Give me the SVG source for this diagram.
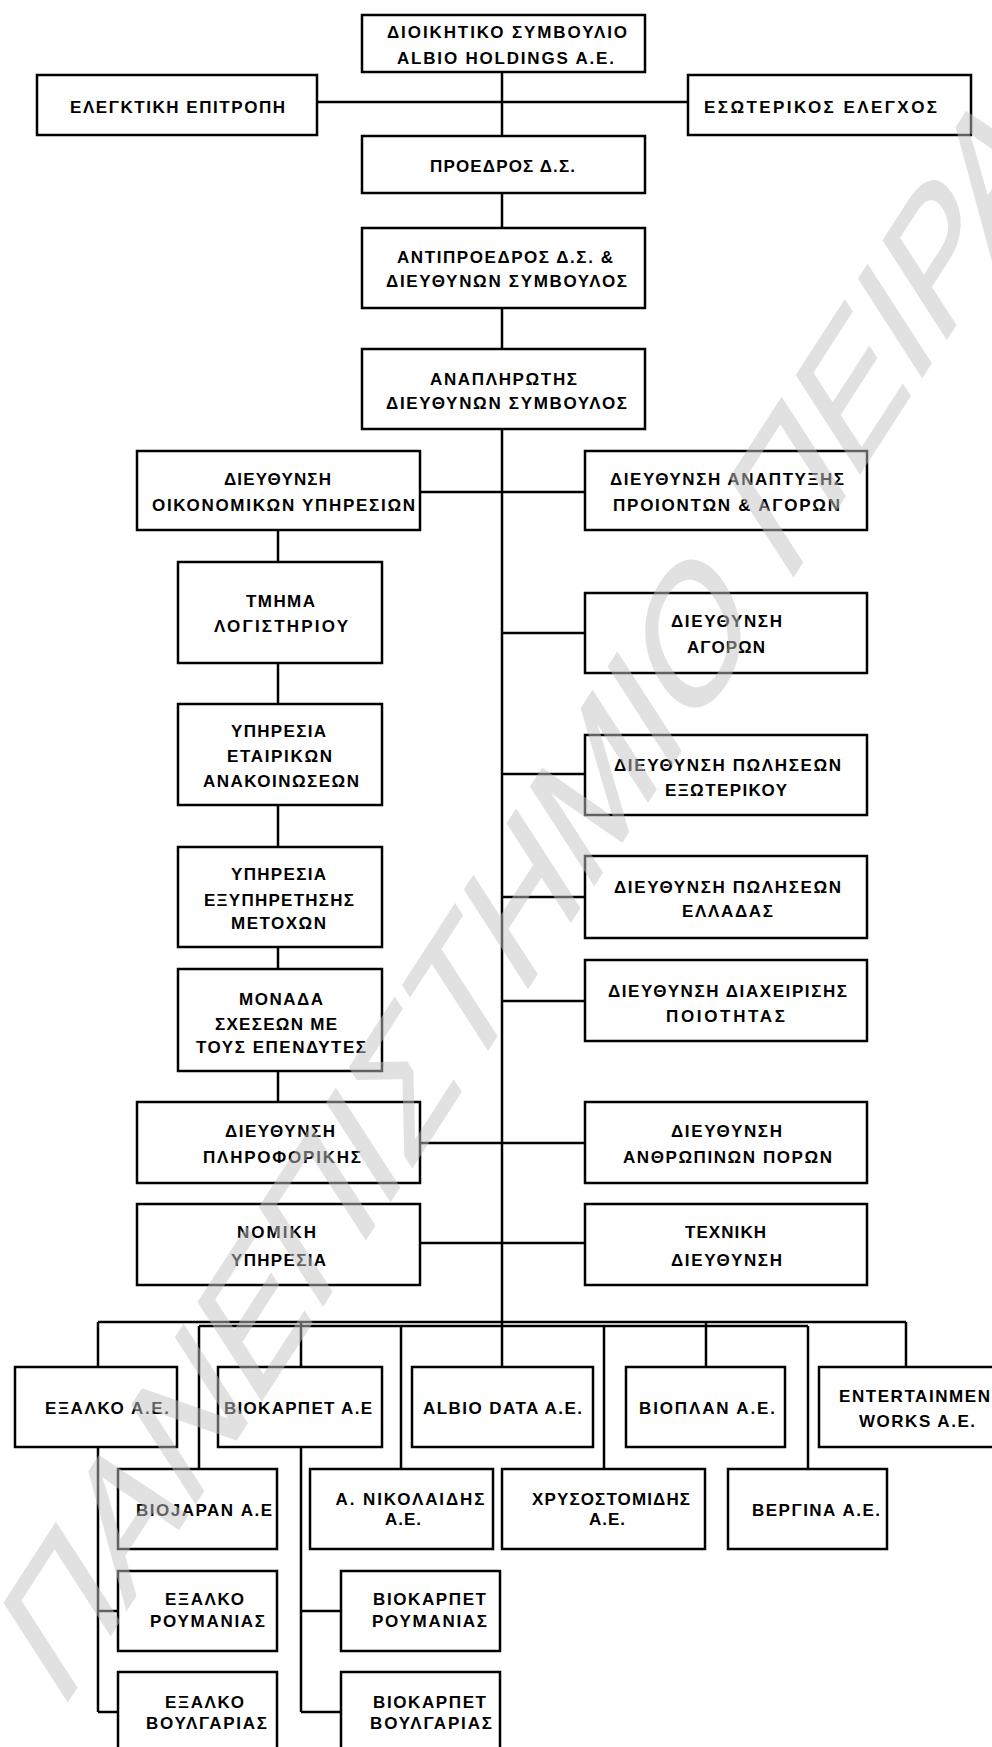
<svg xmlns="http://www.w3.org/2000/svg" width="992" height="1747" viewBox="0 0 992 1747">
<style>
.box{fill:#fff;stroke:#000;stroke-width:2.5}
.t{font-family:"Liberation Sans",Arial,sans-serif;font-weight:bold;font-size:17px;text-anchor:middle;fill:#000}
.c{stroke:#000;stroke-width:2.5;fill:none}
.wm{font-family:"Liberation Sans",Arial,sans-serif;font-size:130px;fill:#c4c4c4;stroke:#c4c4c4;stroke-width:1.5}
</style>
<rect width="992" height="1747" fill="#fff"/>
<g id="connectors">
<path class="c" d="M502,73 V135 M502,194 V227 M502,309 V348 M502,430 V1366 M318,102 H687 M421,492 H584 M278,531 V561 M278,664 V703 M278,806 V846 M278,948 V968 M278,1072 V1101 M502,774 H584 M502,897 H584 M502,1001 H584 M421,1143 H584 M421,1243 H584 M98,1322 H906 M199,1326 H808 M98,1322 V1366 M906,1322 V1366 M301,1322 V1366 M706,1322 V1366 M199,1326 V1468 M401,1326 V1468 M604,1326 V1468 M808,1326 V1468 M98,1448 V1712 M98,1611 H117 M98,1712 H117 M301,1448 V1712 M301,1611 H340 M301,1712 H340"/>
<path class="c" stroke-width="4.5" d="M502,633 H584"/>
</g>
<g id="board"><rect class="box" x="362" y="15" width="283" height="57"/><text class="t" x="507" y="38" textLength="240">ΔΙΟΙΚΗΤΙΚΟ ΣΥΜΒΟΥΛΙΟ</text><text class="t" x="505.5" y="64" textLength="217">ALBIO HOLDINGS A.E.</text></g>
<g id="audit"><rect class="box" x="37" y="75" width="280" height="60"/><text class="t" x="177.5" y="113" textLength="215">ΕΛΕΓΚΤΙΚΗ ΕΠΙΤΡΟΠΗ</text></g>
<g id="internal"><rect class="box" x="688" y="75" width="283" height="60"/><text class="t" x="820.5" y="113" textLength="233">ΕΣΩΤΕΡΙΚΟΣ ΕΛΕΓΧΟΣ</text></g>
<g id="chair"><rect class="box" x="362" y="136" width="283" height="57"/><text class="t" x="502.5" y="172" textLength="145">ΠΡΟΕΔΡΟΣ Δ.Σ.</text></g>
<g id="vice"><rect class="box" x="362" y="228" width="283" height="80"/><text class="t" x="505" y="263" textLength="216">ΑΝΤΙΠΡΟΕΔΡΟΣ Δ.Σ. &amp;</text><text class="t" x="506.5" y="287" textLength="241">ΔΙΕΥΘΥΝΩΝ ΣΥΜΒΟΥΛΟΣ</text></g>
<g id="deputy"><rect class="box" x="362" y="349" width="283" height="80"/><text class="t" x="503.5" y="385" textLength="147">ΑΝΑΠΛΗΡΩΤΗΣ</text><text class="t" x="506.5" y="409" textLength="241">ΔΙΕΥΘΥΝΩΝ ΣΥΜΒΟΥΛΟΣ</text></g>
<g id="finance"><rect class="box" x="137" y="451" width="283" height="79"/><text class="t" x="277.5" y="485" textLength="107">ΔΙΕΥΘΥΝΣΗ</text><text class="t" x="283.5" y="511" textLength="263">ΟΙΚΟΝΟΜΙΚΩΝ ΥΠΗΡΕΣΙΩΝ</text></g>
<g id="product"><rect class="box" x="585" y="451" width="282" height="79"/><text class="t" x="727" y="485" textLength="234">ΔΙΕΥΘΥΝΣΗ ΑΝΑΠΤΥΞΗΣ</text><text class="t" x="726.5" y="511" textLength="227">ΠΡΟΙΟΝΤΩΝ &amp; ΑΓΟΡΩΝ</text></g>
<g id="accounting"><rect class="box" x="178" y="562" width="204" height="101"/><text class="t" x="280.5" y="607" textLength="69">ΤΜΗΜΑ</text><text class="t" x="281" y="632" textLength="134">ΛΟΓΙΣΤΗΡΙΟΥ</text></g>
<g id="corporate"><rect class="box" x="178" y="704" width="204" height="101"/><text class="t" x="278.5" y="737" textLength="95">ΥΠΗΡΕΣΙΑ</text><text class="t" x="279.5" y="762" textLength="105">ΕΤΑΙΡΙΚΩΝ</text><text class="t" x="281" y="787" textLength="156">ΑΝΑΚΟΙΝΩΣΕΩΝ</text></g>
<g id="shareholders"><rect class="box" x="178" y="847" width="204" height="100"/><text class="t" x="278.5" y="880" textLength="95">ΥΠΗΡΕΣΙΑ</text><text class="t" x="279" y="906" textLength="150">ΕΞΥΠΗΡΕΤΗΣΗΣ</text><text class="t" x="278.5" y="929" textLength="95">ΜΕΤΟΧΩΝ</text></g>
<g id="investors"><rect class="box" x="178" y="969" width="204" height="102"/><text class="t" x="281" y="1005" textLength="84">ΜΟΝΑΔΑ</text><text class="t" x="276" y="1030" textLength="122">ΣΧΕΣΕΩΝ ΜΕ</text><text class="t" x="281" y="1053" textLength="170">ΤΟΥΣ ΕΠΕΝΔΥΤΕΣ</text></g>
<g id="it"><rect class="box" x="137" y="1102" width="283" height="81"/><text class="t" x="280" y="1137" textLength="110">ΔΙΕΥΘΥΝΣΗ</text><text class="t" x="282" y="1163" textLength="158">ΠΛΗΡΟΦΟΡΙΚΗΣ</text></g>
<g id="legal"><rect class="box" x="137" y="1204" width="283" height="81"/><text class="t" x="276.5" y="1238" textLength="79">ΝΟΜΙΚΗ</text><text class="t" x="278.5" y="1266" textLength="95">ΥΠΗΡΕΣΙΑ</text></g>
<g id="markets"><rect class="box" x="585" y="593" width="282" height="80"/><text class="t" x="726.5" y="627" textLength="111">ΔΙΕΥΘΥΝΣΗ</text><text class="t" x="726" y="653" textLength="78">ΑΓΟΡΩΝ</text></g>
<g id="exports"><rect class="box" x="585" y="735" width="282" height="80"/><text class="t" x="727.5" y="771" textLength="227">ΔΙΕΥΘΥΝΣΗ ΠΩΛΗΣΕΩΝ</text><text class="t" x="726" y="796" textLength="122">ΕΞΩΤΕΡΙΚΟΥ</text></g>
<g id="domestic"><rect class="box" x="585" y="856" width="282" height="82"/><text class="t" x="727.5" y="893" textLength="227">ΔΙΕΥΘΥΝΣΗ ΠΩΛΗΣΕΩΝ</text><text class="t" x="727.5" y="917" textLength="91">ΕΛΛΑΔΑΣ</text></g>
<g id="quality"><rect class="box" x="585" y="960" width="282" height="81"/><text class="t" x="727.5" y="997" textLength="239">ΔΙΕΥΘΥΝΣΗ  ΔΙΑΧΕΙΡΙΣΗΣ</text><text class="t" x="725.5" y="1022" textLength="119">ΠΟΙΟΤΗΤΑΣ</text></g>
<g id="hr"><rect class="box" x="585" y="1102" width="282" height="81"/><text class="t" x="726.5" y="1137" textLength="111">ΔΙΕΥΘΥΝΣΗ</text><text class="t" x="727.5" y="1163" textLength="209">ΑΝΘΡΩΠΙΝΩΝ ΠΟΡΩΝ</text></g>
<g id="technical"><rect class="box" x="585" y="1204" width="282" height="81"/><text class="t" x="725.5" y="1238" textLength="81">ΤΕΧΝΙΚΗ</text><text class="t" x="726.5" y="1266" textLength="111">ΔΙΕΥΘΥΝΣΗ</text></g>
<g id="exalko"><rect class="box" x="15" y="1367" width="162" height="80"/><text class="t" x="107" y="1414" textLength="124">ΕΞΑΛΚΟ Α.Ε.</text></g>
<g id="biokarpet"><rect class="box" x="218" y="1367" width="164" height="80"/><text class="t" x="298" y="1414" textLength="148">ΒΙΟΚΑΡΠΕΤ Α.Ε</text></g>
<g id="albiodata"><rect class="box" x="412" y="1367" width="181" height="80"/><text class="t" x="502.5" y="1414" textLength="159">ALBIO DATA A.E.</text></g>
<g id="bioplan"><rect class="box" x="626" y="1367" width="159" height="80"/><text class="t" x="707" y="1414" textLength="136">ΒΙΟΠΛΑΝ Α.Ε.</text></g>
<g id="entertainment"><rect class="box" x="819" y="1367" width="180" height="80"/><text class="t" x="839" y="1402" textLength="151" style="text-anchor:start">ENTERTAINMEN</text><text class="t" x="917" y="1427" textLength="116">WORKS A.E.</text></g>
<g id="biojapan"><rect class="box" x="118" y="1469" width="159" height="80"/><text class="t" x="204" y="1516" textLength="136">ΒΙΟJAPAN Α.Ε</text></g>
<g id="nikolaidis"><rect class="box" x="310" y="1469" width="183" height="80"/><text class="t" x="410" y="1505" textLength="149">Α. ΝΙΚΟΛΑΙΔΗΣ</text><text class="t" x="403" y="1525" textLength="36">Α.Ε.</text></g>
<g id="chrysostomidis"><rect class="box" x="502" y="1469" width="203" height="80"/><text class="t" x="611" y="1505" textLength="158">ΧΡΥΣΟΣΤΟΜΙΔΗΣ</text><text class="t" x="607" y="1525" textLength="36">Α.Ε.</text></g>
<g id="vergina"><rect class="box" x="728" y="1469" width="159" height="80"/><text class="t" x="816" y="1516" textLength="128">ΒΕΡΓΙΝΑ Α.Ε.</text></g>
<g id="exalko-ro"><rect class="box" x="118" y="1571" width="159" height="80"/><text class="t" x="204.5" y="1605" textLength="79">ΕΞΑΛΚΟ</text><text class="t" x="207.5" y="1627" textLength="115">ΡΟΥΜΑΝΙΑΣ</text></g>
<g id="biokarpet-ro"><rect class="box" x="341" y="1571" width="159" height="80"/><text class="t" x="429.5" y="1605" textLength="113">ΒΙΟΚΑΡΠΕΤ</text><text class="t" x="429.5" y="1627" textLength="115">ΡΟΥΜΑΝΙΑΣ</text></g>
<g id="exalko-bg"><rect class="box" x="118" y="1672" width="159" height="90"/><text class="t" x="204.5" y="1708" textLength="79">ΕΞΑΛΚΟ</text><text class="t" x="206.5" y="1729" textLength="121">ΒΟΥΛΓΑΡΙΑΣ</text></g>
<g id="biokarpet-bg"><rect class="box" x="341" y="1672" width="159" height="90"/><text class="t" x="429.5" y="1708" textLength="113">ΒΙΟΚΑΡΠΕΤ</text><text class="t" x="431" y="1729" textLength="122">ΒΟΥΛΓΑΡΙΑΣ</text></g>
<g id="watermark" opacity="0.5" transform="translate(27,1661) scale(1,1.55) rotate(-45)"><text class="wm" x="0" y="47">ΠΑΝΕΠΙΣΤΗΜΙΟ ΠΕΙΡΑΙΑ</text></g>
</svg>
